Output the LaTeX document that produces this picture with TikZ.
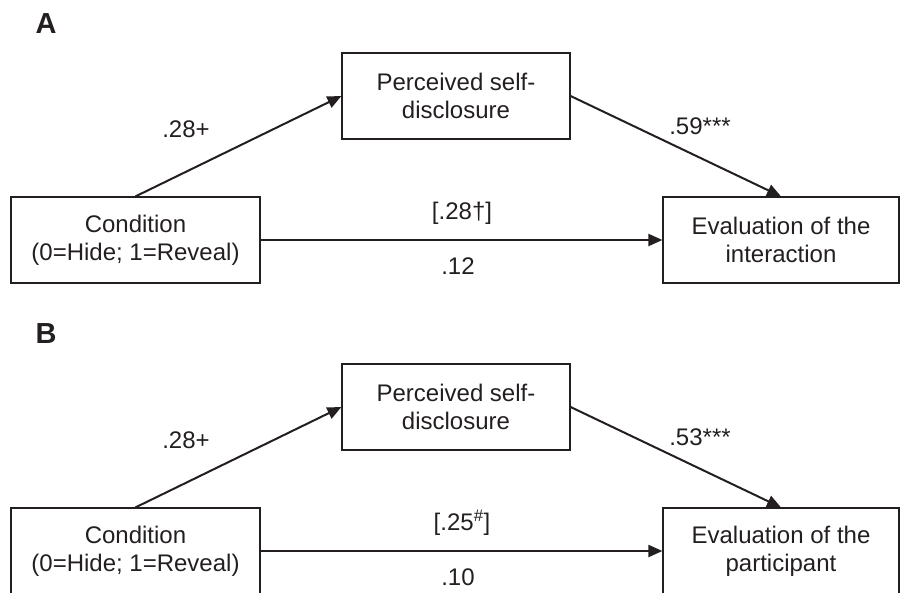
\documentclass[tikz,border=0pt]{standalone}
\usepackage{fontspec}
\setmainfont{Liberation Sans}
\usetikzlibrary{arrows.meta}
\definecolor{ink}{HTML}{231F20}
\begin{document}
\begin{tikzpicture}[x=1pt,y=-1pt,
  every node/.style={text=ink,font=\fontsize{24}{28}\selectfont},
  varbox/.style={draw=ink,line width=1.2pt,align=center,inner sep=0pt,minimum height=86pt},
  arr/.style={draw=ink,line width=2pt,-{Triangle[length=14pt,width=12pt]}},
  lbl/.style={inner sep=0pt},
  panel/.style={font=\fontsize{29}{30}\bfseries\selectfont,inner sep=0pt}]
\useasboundingbox (0,0) rectangle (901,592);
% Panel A
\node[panel] (pA) at (46,24) {A};
\node[varbox,minimum width=228pt] (selfA) at (456,96) {Perceived self-\\disclosure};
\node[varbox,minimum width=249pt] (condA) at (135.5,240) {Condition\\(0=Hide; 1=Reveal)};
\node[varbox,minimum width=236pt] (evalA) at (781,240) {Evaluation of the\\interaction};
\draw[arr] (condA.north) -- (selfA.west);
\draw[arr] (selfA.east) -- (evalA.north);
\draw[arr] (condA.east) -- (evalA.west);
\node[lbl] (a1) at (186,129) {.28+};
\node[lbl] (a2) at (700,126) {.59***};
\node[lbl] (a3) at (462,213) {[.28†]};
\node[lbl] (a4) at (458,266) {.12};
% Panel B
\node[panel] (pB) at (46,334) {B};
\node[varbox,minimum width=228pt] (selfB) at (456,407) {Perceived self-\\disclosure};
\node[varbox,minimum width=249pt] (condB) at (135.5,551) {Condition\\(0=Hide; 1=Reveal)};
\node[varbox,minimum width=236pt] (evalB) at (781,551) {Evaluation of the\\participant};
\draw[arr] (condB.north) -- (selfB.west);
\draw[arr] (selfB.east) -- (evalB.north);
\draw[arr] (condB.east) -- (evalB.west);
\node[lbl] (b1) at (186,440) {.28+};
\node[lbl] (b2) at (700,437) {.53***};
\node[lbl] (b3) at (462,523) {[.25\textsuperscript{\#}]};
\node[lbl] (b4) at (458,577) {.10};
\end{tikzpicture}
\end{document}
